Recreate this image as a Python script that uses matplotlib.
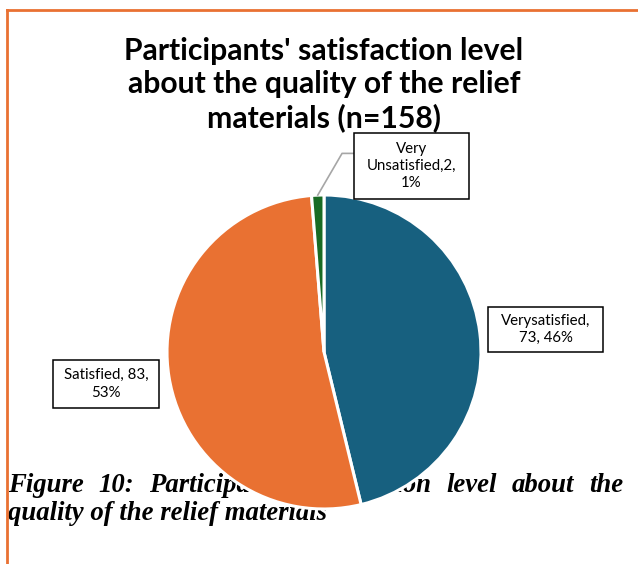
import matplotlib
matplotlib.use('Agg')
import matplotlib.pyplot as plt
from matplotlib.lines import Line2D
from matplotlib.patches import Rectangle
import numpy as np

# satisfaction categories, in drawing order (clockwise from 12 o'clock)
names = ['Verysatisfied', 'Satisfied', 'Very\nUnsatisfied']
counts = [73, 83, 2]
colors = ['#17607F', '#E97132', '#196B24']
label_fmt = ['{name},\n{n}, {p}%', '{name}, {n},\n{p}%', '{name},{n},\n{p}%']
title = "Participants' satisfaction level\nabout the quality of the relief\nmaterials (n=158)"
caption1 = "Figure 10: Participants' satisfaction level about the"
caption2 = "quality of the relief materials"

W, H = 638, 564
fig = plt.figure(figsize=(W / 100, H / 100), dpi=100)

def px(x, y):
    return x / W, 1 - y / H

# caption sits underneath the pie, first line justified
cap_font = dict(family='Liberation Serif', style='italic', weight='bold', fontsize=19.3)
fig.canvas.draw()
renderer = fig.canvas.get_renderer()
words = caption1.split()
texts = [fig.text(0, 0, w, zorder=0.5, **cap_font) for w in words]
widths = [t.get_window_extent(renderer).width for t in texts]
x0, x1 = 8, 623
gap = (x1 - x0 - sum(widths)) / (len(words) - 1)
x = x0
for t, w in zip(texts, widths):
    t.set_position(px(x, 492))
    x += w + gap
fig.text(*px(8, 520), caption2, zorder=0.5, **cap_font)

# title, also underneath the label boxes
fig.text(*px(324, 37), title, ha='center', va='top', family='Lato',
         weight='bold', fontsize=21.7, linespacing=1.22, zorder=0.5)

# pie
cx, cy, r = 324, 352, 157
ax = fig.add_axes([(cx - r) / W, 1 - (cy + r) / H, 2 * r / W, 2 * r / H], zorder=1)
wedges, _ = ax.pie(counts, colors=colors, startangle=90, counterclock=False,
                   wedgeprops=dict(edgecolor='white', linewidth=2.2))
ax.set_xlim(-1, 1)
ax.set_ylim(-1, 1)
ax.axis('off')

# data-label boxes: (centre x, centre y, width, height) in pie units
boxes = [(1.411, 0.143, 0.732, 0.287),
         (-1.389, -0.204, 0.675, 0.306),
         (0.557, 1.185, 0.732, 0.420)]
total = sum(counts)
for name, n, fmt, (bx, by, bw, bh) in zip(names, counts, label_fmt, boxes):
    p = round(100 * n / total)
    ax.add_patch(Rectangle((bx - bw / 2, by - bh / 2), bw, bh, fc='white',
                           ec='black', lw=1.1, clip_on=False, zorder=3))
    ax.text(bx, by, fmt.format(name=name, n=n, p=p), ha='center', va='center',
            family='Lato', fontsize=10.8, linespacing=1.3, clip_on=False, zorder=4)

# leader line for the small slice
wdg = wedges[2]
mid = np.deg2rad((wdg.theta1 + wdg.theta2) / 2)
ex, ey = np.cos(mid), np.sin(mid)
bx, by, bw, bh = boxes[2]
ly = 1.265
ax.plot([ex, 0.115, bx - bw / 2], [ey, ly, ly], color='#A6A6A6', lw=1.2,
        clip_on=False, zorder=2)

# outer frame edges
fig.add_artist(Line2D([7 / W, 1], [1 - 10 / H] * 2, color='#E97132', lw=2))
fig.add_artist(Line2D([7 / W] * 2, [0, 1 - 10 / H], color='#E97132', lw=2))

fig.savefig('out.png', dpi=100)
